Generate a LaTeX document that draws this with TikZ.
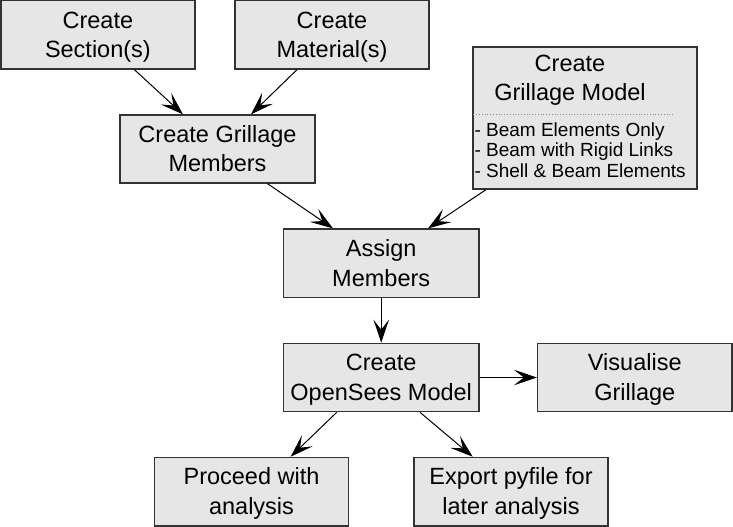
\documentclass[tikz,border=0pt]{standalone}
\usepackage{fontspec}
\setmainfont{Liberation Sans}
\usetikzlibrary{arrows.meta}
\definecolor{boxfill}{HTML}{E6E6E6}
\definecolor{boxline}{HTML}{333333}
\definecolor{dotline}{HTML}{8C8C8C}
\tikzset{
  stepbox/.style={draw=boxline, line width=1.3pt, fill=boxfill, rectangle,
    inner sep=0pt, align=center, text height=51.6pt, text depth=6pt,
    font=\fontsize{23.5}{29.5}\selectfont},
  arr/.style={line width=1pt, -{Stealth[length=23pt,width=15.5pt,inset=10pt]}},
  small/.style={font=\fontsize{19}{20.5}\selectfont, inner sep=0pt, anchor=base west},
  title/.style={font=\fontsize{23.5}{29.5}\selectfont, inner sep=0pt, anchor=base}
}
\begin{document}
\begin{tikzpicture}[x=1pt,y=-1pt]
\useasboundingbox (0,0) rectangle (733,527);
\node[stepbox, minimum width=194pt, minimum height=68.3pt] (sec) at (97.9,34.85) {Create\\Section(s)};
\node[stepbox, minimum width=194pt, minimum height=68.3pt] (mat) at (332,34.85) {Create\\Material(s)};
\node[stepbox, minimum width=195pt, minimum height=68pt] (mem) at (217.5,149) {Create Grillage\\Members};
\node[stepbox, minimum width=224pt, minimum height=142pt] (gm) at (585,118) {};
\node[title] (gmt1) at ([xshift=-15pt,yshift=-25pt]gm.north) {Create};
\node[title] (gmt2) at ([xshift=-15pt,yshift=-54pt]gm.north) {Grillage Model};
\draw[dotline, line width=0.8pt, dotted] ([xshift=1pt,yshift=-68pt]gm.north west) -- ([xshift=202pt,yshift=-68pt]gm.north west);
\node[small] (gml1) at ([xshift=2pt,yshift=-90pt]gm.north west) {- Beam Elements Only};
\node[small] (gml2) at ([xshift=2pt,yshift=-110pt]gm.north west) {- Beam with Rigid Links};
\node[small] (gml3) at ([xshift=2pt,yshift=-131pt]gm.north west) {- Shell \& Beam Elements};
\node[stepbox, minimum width=195.5pt, minimum height=68.7pt] (as) at (381.2,263.4) {Assign\\Members};
\node[stepbox, minimum width=195.5pt, minimum height=68.4pt] (os) at (381.2,377.5) {Create\\OpenSees Model};
\node[stepbox, minimum width=194.5pt, minimum height=68.4pt] (vis) at (634.8,377.5) {Visualise\\Grillage};
\node[stepbox, minimum width=194.5pt, minimum height=68.5pt] (pr) at (251.5,491.6) {Proceed with\\analysis};
\node[stepbox, minimum width=194pt, minimum height=68.5pt] (ex) at (511,491.6) {Export pyfile for\\later analysis};
\draw[arr] ([xshift=36.5pt]sec.south) -- ([xshift=-34.5pt]mem.north);
\draw[arr] ([xshift=-35pt]mat.south) -- ([xshift=33.5pt]mem.north);
\draw[arr] ([xshift=50pt]mem.south) -- ([xshift=-48.2pt]as.north);
\draw[arr] ([xshift=-99pt]gm.south) -- ([xshift=46.8pt]as.north);
\draw[arr] (as.south) -- (os.north);
\draw[arr] (os.east) -- (vis.west);
\draw[arr] ([xshift=-44.5pt]os.south) -- ([xshift=39.2pt]pr.north);
\draw[arr] ([xshift=38.8pt]os.south) -- ([xshift=-38.3pt]ex.north);
\end{tikzpicture}
\end{document}
